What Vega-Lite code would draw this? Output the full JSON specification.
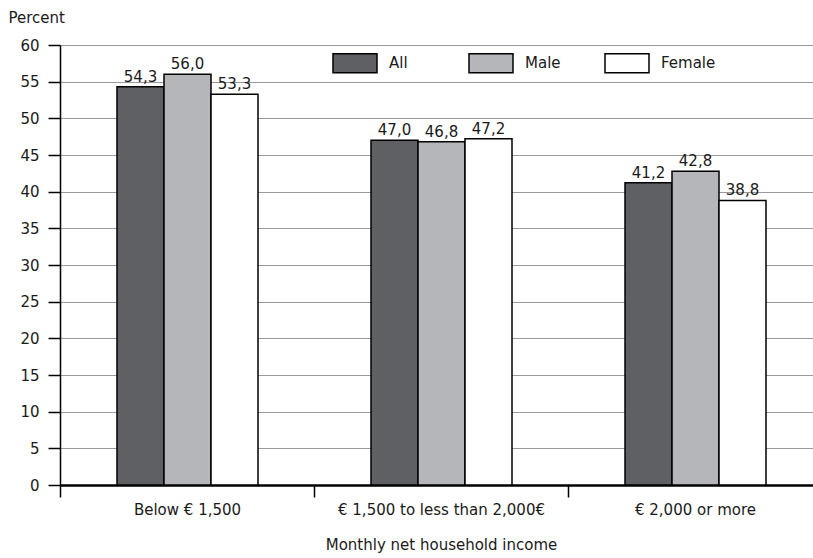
{
  "$schema": "https://vega.github.io/schema/vega-lite/v6.json",
  "width": 753,
  "height": 440,
  "autosize": {"type": "none"},
  "padding": {"left": 60, "top": 45, "right": 0, "bottom": 73},
  "config": {
    "view": {"stroke": null},
    "font": "DejaVu Sans",
    "locale": {"number": {"decimal": ",", "thousands": ".", "grouping": [3], "currency": ["", "€"]}}
  },
  "data": {
    "values": [
      {"income": "Below € 1,500", "sex": "All", "value": 54.3},
      {"income": "Below € 1,500", "sex": "Male", "value": 56.0},
      {"income": "Below € 1,500", "sex": "Female", "value": 53.3},
      {"income": "€ 1,500 to less than 2,000€", "sex": "All", "value": 47.0},
      {"income": "€ 1,500 to less than 2,000€", "sex": "Male", "value": 46.8},
      {"income": "€ 1,500 to less than 2,000€", "sex": "Female", "value": 47.2},
      {"income": "€ 2,000 or more", "sex": "All", "value": 41.2},
      {"income": "€ 2,000 or more", "sex": "Male", "value": 42.8},
      {"income": "€ 2,000 or more", "sex": "Female", "value": 38.8}
    ]
  },
  "encoding": {
    "x": {
      "field": "income",
      "type": "nominal",
      "sort": ["Below € 1,500", "€ 1,500 to less than 2,000€", "€ 2,000 or more"],
      "scale": {"range": [0, 762], "paddingInner": 0, "paddingOuter": 0},
      "axis": {
        "title": "Monthly net household income",
        "titleFontSize": 15,
        "titleFontWeight": "normal",
        "titleColor": "#1a1a1a",
        "titlePadding": 20,
        "labelAngle": 0,
        "labelFontSize": 15,
        "labelColor": "#1a1a1a",
        "labelPadding": 5,
        "labelLimit": 0,
        "tickBand": "extent",
        "tickSize": 12,
        "tickColor": "black",
        "tickWidth": 1.5,
        "domainColor": "black",
        "domainWidth": 2.5,
        "grid": false
      }
    },
    "xOffset": {
      "field": "sex",
      "type": "nominal",
      "sort": ["All", "Male", "Female"],
      "scale": {"range": [57, 198]}
    },
    "y": {
      "field": "value",
      "type": "quantitative",
      "scale": {"domain": [0, 60], "nice": false},
      "axis": {
        "title": "Percent",
        "titleAngle": 0,
        "titleAlign": "left",
        "titleBaseline": "middle",
        "titleX": -52,
        "titleY": -28,
        "titleFontSize": 15,
        "titleFontWeight": "normal",
        "titleColor": "#1a1a1a",
        "values": [0, 5, 10, 15, 20, 25, 30, 35, 40, 45, 50, 55, 60],
        "labelFontSize": 15,
        "labelColor": "#1a1a1a",
        "labelPadding": 9,
        "tickSize": 12,
        "tickColor": "black",
        "tickWidth": 1.5,
        "domainColor": "black",
        "domainWidth": 1.5,
        "grid": true,
        "gridColor": "#9a9a9a",
        "gridWidth": 1
      }
    }
  },
  "layer": [
    {
      "mark": {"type": "bar", "stroke": "black", "strokeWidth": 1.5},
      "encoding": {
        "color": {
          "field": "sex",
          "type": "nominal",
          "sort": ["All", "Male", "Female"],
          "scale": {"domain": ["All", "Male", "Female"], "range": ["#5f6064", "#b5b6ba", "#ffffff"]},
          "legend": {
            "orient": "none",
            "legendX": 272,
            "legendY": -5,
            "direction": "horizontal",
            "title": null,
            "padding": 0,
            "symbolType": "M-1,-0.43H1V0.43H-1Z",
            "symbolSize": 1936,
            "symbolStrokeColor": "black",
            "symbolStrokeWidth": 1.5,
            "symbolOpacity": 1,
            "labelFontSize": 15,
            "labelColor": "#1a1a1a",
            "labelOffset": 11,
            "labelLimit": 0,
            "gridAlign": "all",
            "columnPadding": 22
          }
        }
      }
    },
    {
      "mark": {"type": "text", "baseline": "alphabetic", "dy": -5, "fontSize": 15, "color": "#1a1a1a"},
      "encoding": {
        "text": {"field": "value", "type": "quantitative", "format": ".1f"}
      }
    }
  ]
}
